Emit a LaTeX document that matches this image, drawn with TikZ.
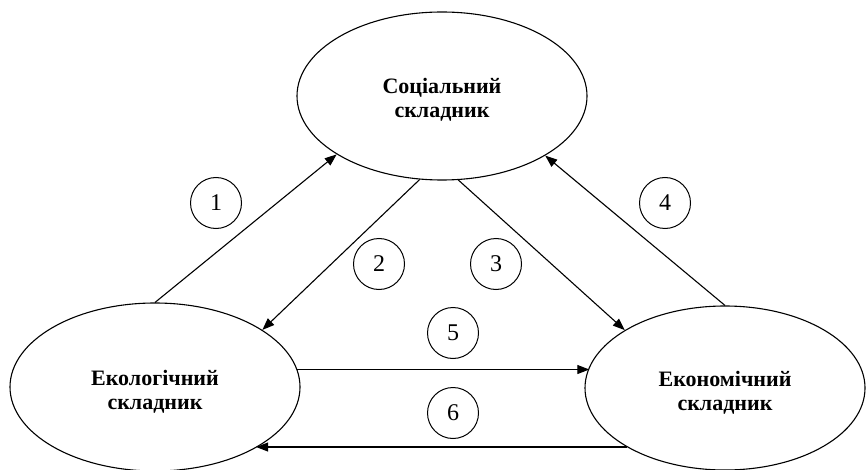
\documentclass[tikz,border=0pt]{standalone}
\usepackage{fontspec}
\setmainfont{Liberation Serif}
\usetikzlibrary{shapes.geometric,arrows.meta}
\begin{document}
\begin{tikzpicture}[x=1pt,y=-1pt,
  comp/.style={draw, ellipse, line width=1.1pt, inner sep=0pt},
  ctext/.style={align=center, inner sep=0pt,
    font=\fontsize{22}{24}\selectfont\bfseries},
  num/.style={draw, circle, line width=1pt, minimum size=51pt, inner sep=0pt,
    font=\fontsize{24}{24}\selectfont},
  link/.style={line width=1.1pt, -{Triangle[length=12pt,width=9pt]}}]
\useasboundingbox (0,0) rectangle (866,470);
\node[comp, minimum width=290pt, minimum height=168pt] (soc) at (442,96) {};
\node[comp, minimum width=290pt, minimum height=168pt] (eco) at (155,387) {};
\node[comp, minimum width=280pt, minimum height=164pt] (econ) at (725,388) {};
\node[ctext] (socT) at (442,100) {Соціальний\\складник};
\node[ctext] (ecoT) at (155,392) {Екологічний\\складник};
\node[ctext] (econT) at (725,393) {Економічний\\складник};
\node[num] (n1) at (216,203) {1};
\node[num] (n2) at (379,264) {2};
\node[num] (n3) at (496,264) {3};
\node[num] (n4) at (665,203) {4};
\node[num] (n5) at (453,333) {5};
\node[num] (n6) at (453,413) {6};
\draw[link] (eco.90) -- (soc.209.6);
\draw[link] (soc.255) -- (eco.28.3);
\draw[link] (soc.281) -- (econ.150.3);
\draw[link] (econ.90) -- (soc.330.6);
\draw[link] (eco.7.5) -- (eco.7.5 -| econ.171);
\draw[link] (econ.211.5) -- (econ.211.5 -| eco.329.4);
\end{tikzpicture}
\end{document}
